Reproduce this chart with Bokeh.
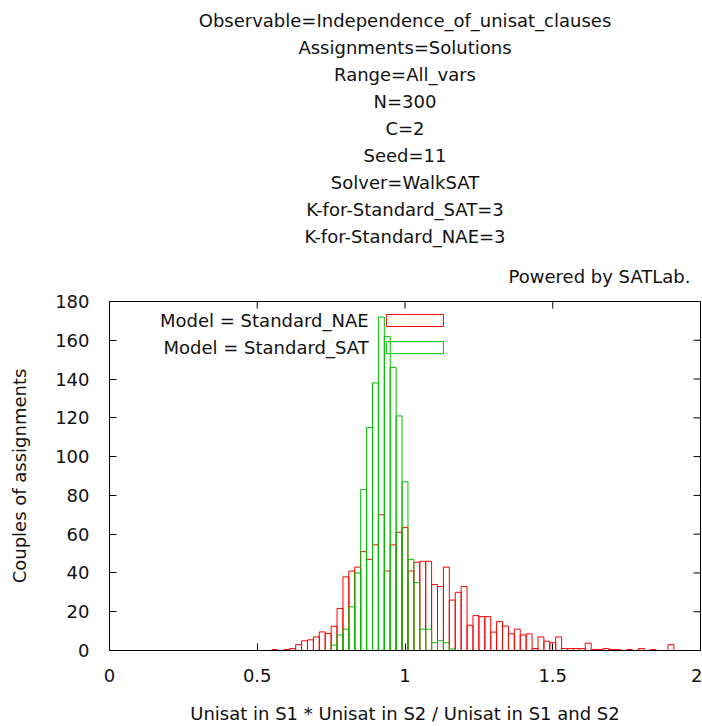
from bokeh.plotting import figure
from bokeh.models import FixedTicker, Label, BoxAnnotation, ColumnDataSource, Title
from bokeh.embed import file_html
from bokeh.resources import INLINE

# ---------------- data ----------------
bin_centers = [0.56, 0.58, 0.60, 0.62, 0.64, 0.66, 0.68, 0.70, 0.72, 0.74,
               0.76, 0.78, 0.80, 0.82, 0.84, 0.86, 0.88, 0.90, 0.92, 0.94,
               0.96, 0.98, 1.00, 1.02, 1.04, 1.06, 1.08, 1.10, 1.12, 1.14,
               1.16, 1.18, 1.20, 1.22, 1.24, 1.26, 1.28, 1.30, 1.32, 1.34,
               1.36, 1.38, 1.40, 1.42, 1.44, 1.46, 1.48, 1.50, 1.52, 1.54,
               1.56, 1.58, 1.60, 1.62, 1.64, 1.66, 1.68, 1.70, 1.72, 1.74,
               1.76, 1.78, 1.80, 1.82, 1.84, 1.86, 1.88, 1.90]
bin_width = 0.02

nae_counts = [0.5, 0, 0.5, 1, 3, 5, 5.5, 7, 9.6, 8.8,
              12.5, 21.7, 38, 41, 43, 51, 47, 54.5, 70, 41,
              54.5, 61, 63.5, 41, 45.5, 46, 46, 34, 33, 43,
              26, 30, 33, 13, 18, 17.5, 17.5, 9.5, 15, 12.6,
              8.6, 11, 8, 8.6, 1, 7, 4.8, 4, 7, 1,
              1, 1, 1, 3.8, 0.5, 0.5, 1, 0.5, 0.5, 0,
              0.5, 0, 1, 0, 0.5, 0, 0, 3]

sat_counts = [0, 0, 0, 0, 0, 0, 0, 0, 0, 0,
              2.8, 8, 11, 22.5, 40, 83, 115, 138, 172, 162,
              146, 121, 87, 47, 35, 11, 11, 4, 5, 4,
              0.8, 0, 0, 0, 0, 0, 0, 0, 0, 0,
              0, 0, 0, 0, 0, 0, 0, 0, 0, 0,
              0, 0, 0, 0, 0, 0, 0, 0, 0, 0,
              0, 0, 0, 0, 0, 0, 0, 0]

series_names = ["Model = Standard_NAE", "Model = Standard_SAT"]
series_colors = ["#ff0000", "#00c000"]

title_lines = ["Observable=Independence_of_unisat_clauses",
               "Assignments=Solutions",
               "Range=All_vars",
               "N=300",
               "C=2",
               "Seed=11",
               "Solver=WalkSAT",
               "K-for-Standard_SAT=3",
               "K-for-Standard_NAE=3"]
credit = "Powered by SATLab."

x_ticks = [0, 0.5, 1, 1.5, 2]
x_tick_labels = ["0", "0.5", "1", "1.5", "2"]
y_ticks = [0, 20, 40, 60, 80, 100, 120, 140, 160, 180]
x_label = "Unisat in S1 * Unisat in S2 / Unisat in S1 and S2"
y_label = "Couples of assignments"

FONT = "DejaVu Sans"
FS = "18px"
TXT = "#111111"

# ---------------- figure ----------------
FRAME_W, FRAME_H = 591, 348
p = figure(width=702, height=726, x_range=(0, 2), y_range=(0, 180),
           output_backend="svg", toolbar_location=None, title=None,
           min_border_left=109, min_border_right=2, min_border_top=301,
           min_border_bottom=76)
p.grid.visible = False
p.outline_line_color = "black"
p.outline_line_width = 1
p.background_fill_color = "white"
p.border_fill_color = "white"

def bars(counts):
    lefts, rights, tops = [], [], []
    for c, v in zip(bin_centers, counts):
        if v > 0:
            lefts.append(c - bin_width / 2)
            rights.append(c + bin_width / 2)
            tops.append(v)
    return ColumnDataSource(dict(left=lefts, right=rights, top=tops,
                                 bottom=[0] * len(tops)))

p.quad(left="left", right="right", top="top", bottom="bottom",
       source=bars(nae_counts), fill_color=None,
       line_color=series_colors[0], line_width=1)
p.quad(left="left", right="right", top="top", bottom="bottom",
       source=bars(sat_counts), fill_color=None,
       line_color=series_colors[1], line_width=1)

# axes (ticks inward, gnuplot style)
xa = p.xaxis[0]
xa.ticker = FixedTicker(ticks=x_ticks)
xa.major_label_overrides = {t: l for t, l in zip(x_ticks, x_tick_labels)}
ya = p.yaxis[0]
ya.ticker = FixedTicker(ticks=y_ticks)
for ax in (xa, ya):
    ax.major_tick_in = 7
    ax.major_tick_out = 0
    ax.minor_tick_line_color = None
    ax.major_label_text_font = FONT
    ax.major_label_text_font_size = FS
    ax.major_label_text_color = TXT
    ax.axis_label_text_font = FONT
    ax.axis_label_text_font_size = FS
    ax.axis_label_text_font_style = "normal"
    ax.axis_label_text_color = TXT
    ax.axis_line_color = "black"
    ax.major_tick_line_color = "black"
xa.axis_label = x_label
ya.axis_label = y_label
xa.major_label_standoff = 18
xa.axis_label_standoff = 18
ya.major_label_standoff = 20
ya.axis_label_standoff = 22

# mirrored ticks on the top and right edges (7 px long, inward)
tick_dy = 7 * 180 / FRAME_H
tick_dx = 7 * 2 / FRAME_W
p.segment(x0=x_ticks, x1=x_ticks, y0=[y_ticks[-1]] * len(x_ticks),
          y1=[y_ticks[-1] - tick_dy] * len(x_ticks), line_color="black", line_width=1)
p.segment(x0=[x_ticks[-1]] * len(y_ticks), x1=[x_ticks[-1] - tick_dx] * len(y_ticks),
          y0=y_ticks, y1=y_ticks, line_color="black", line_width=1)

# header: stacked titles, added from the frame outward
p.add_layout(Title(text=credit, align="right", offset=10, text_font=FONT,
                   text_font_size=FS, text_font_style="normal",
                   text_color=TXT, standoff=30, vertical_align="bottom",
                   text_baseline="top"), "above")
for line in reversed(title_lines):
    p.add_layout(Title(text=line, align="center", text_font=FONT,
                       text_font_size=FS, text_font_style="normal",
                       text_color=TXT, standoff=4), "above")

# legend (gnuplot style: text then sample box)
legend_text_x = 0.877
legend_rows_y = [170.2, 156.2]
box_left, box_right, box_half = 0.937, 1.130, 3.1
for name, col, yy in zip(series_names, series_colors, legend_rows_y):
    p.add_layout(Label(x=legend_text_x, y=yy, text=name, text_align="right",
                       text_baseline="middle", text_font=FONT, text_font_size=FS,
                       text_color=TXT))
    p.add_layout(BoxAnnotation(left=box_left, right=box_right,
                               bottom=yy - box_half, top=yy + box_half,
                               fill_color=None, fill_alpha=0,
                               line_color=col, line_width=1, line_alpha=1))

open("out.html", "w").write(file_html(p, INLINE))
